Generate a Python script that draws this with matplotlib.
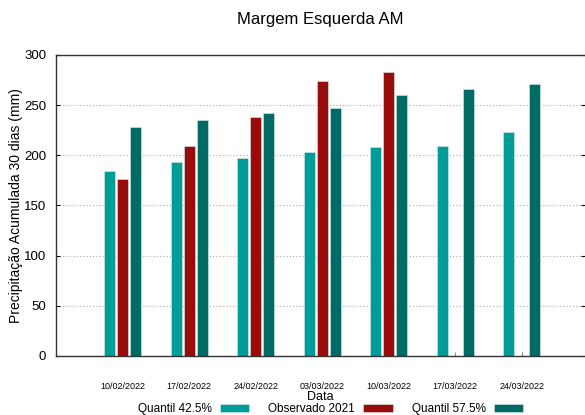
import matplotlib.pyplot as plt
import numpy as np

plt.rcParams['font.family'] = ['Liberation Sans Narrow', 'Liberation Sans', 'DejaVu Sans']

datas = ['10/02/2022', '17/02/2022', '24/02/2022', '03/03/2022',
         '10/03/2022', '17/03/2022', '24/03/2022']
quantil_425 = [184, 193, 197, 203, 208, 209, 223]
observado_2021 = [176, 209, 238, 274, 283, np.nan, np.nan]
quantil_575 = [228, 235, 242, 247, 260, 266, 271]

series = [
    ('Quantil 42.5%', quantil_425, '#009c98'),
    ('Observado 2021', observado_2021, '#980c0c'),
    ('Quantil 57.5%', quantil_575, '#006a64'),
]

fig = plt.figure(figsize=(5.85, 4.15), dpi=100)
ax = fig.add_axes([0.0957, 0.1422, 0.9043, 0.7253])

x = np.arange(len(datas))
w = 0.165
step = 0.196
handles = []
for i, (nome, vals, cor) in enumerate(series):
    b = ax.bar(x + (i - 1) * step, vals, width=w, color=cor,
               edgecolor='#d8ecec', linewidth=0.4, label=nome)
    handles.append(b)

ax.set_xlim(-1, 6.95)
ax.set_ylim(0, 300)
ax.set_yticks(range(0, 301, 50))
ax.set_xticks(x)
ax.set_xticklabels(datas, fontsize=6.5)
ax.tick_params(axis='x', direction='in', length=3, color='#888888', pad=19)
ax.tick_params(axis='y', direction='in', length=3, labelsize=9.5, pad=7,
               right=True)
ax.yaxis.grid(True, linestyle=(0, (1, 2)), color='#aaaaaa', linewidth=0.8)
ax.set_axisbelow(True)
for s in ['top', 'left', 'bottom']:
    ax.spines[s].set_color('#333333')
    ax.spines[s].set_linewidth(1)
ax.spines['right'].set_visible(False)

# rotulos dos eixos
ax.set_ylabel('Precipitação Acumulada 30 dias (mm)', fontsize=10, va='center')
ax.yaxis.set_label_coords(-0.076, 0.5)
ax.set_xlabel('Data', fontsize=9, va='center')
ax.xaxis.set_label_coords(0.5, -0.135)
fig.text(0.547, 0.952, 'Margem Esquerda AM', fontsize=12, ha='center',
         va='center')

fig.legend(handles=handles, loc='center', bbox_to_anchor=(0.565, 0.014),
           ncol=3, frameon=False, markerfirst=False, fontsize=8.5,
           handlelength=2.5, handleheight=0.6, handletextpad=0.7,
           columnspacing=1.6, borderpad=0)

fig.savefig('out.png', dpi=100)
